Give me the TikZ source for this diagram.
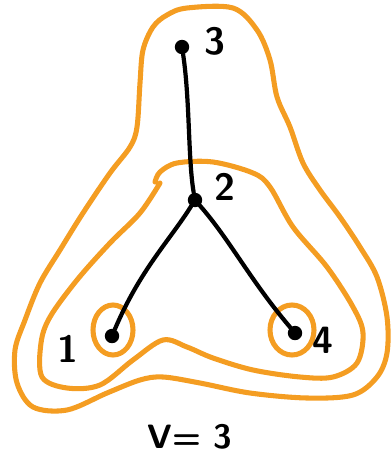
\documentclass[tikz,border=0pt]{standalone}
\usepackage{tikz}
\definecolor{hull}{RGB}{244,157,34}

\begin{document}
\begin{tikzpicture}[x=0.025cm, y=-0.025cm, line cap=round, line join=round,
    vert/.style={circle, fill, inner sep=0pt, minimum size=0.36cm},
    lab/.style={font=\sffamily\bfseries\fontsize{27}{30}\selectfont},
    edge/.style={line width=3pt},
    ring/.style={hull, line width=3.6pt}]
  \useasboundingbox (0,0) rectangle (390,461);

  % outer ring around the whole tree
  \draw[ring] plot[smooth cycle, tension=0.55] coordinates {
    (167,15) (187,8) (233,8) (257,30) (270,60) (277,97) (290,127)
    (303,163) (320,190) (340,217) (360,247) (377,277) (387,317)
    (387,353) (377,377) (353,395) (307,398) (250,393) (200,383)
    (163,377) (140,380) (107,393) (67,410) (33,407) (17,383)
    (15,350) (25,320) (40,283) (60,250) (83,213) (110,173)
    (130,147) (137,127) (140,83) (143,50) (153,27)};

  % middle ring around 1, 2, 4
  \draw[ring] plot[smooth, tension=0.55] coordinates {
    (160,183) (140,213) (110,243) (77,280) (50,317) (41,343)
    (42,377) (67,388) (100,385) (133,360) (163,340) (187,347)
    (213,358) (253,370) (300,377) (333,377) (357,363) (363,333)
    (353,307) (327,267) (293,227) (270,187) (253,173) (213,162)
    (177,163) (160,172) (155,182)};

  % vertices
  \node[vert] (v3) at (182,47) {};
  \node[vert] (v2) at (195,200) {};
  \node[vert] (v1) at (112,336) {};
  \node[vert] (v4) at (295,333) {};

  % inner rings
  \draw[ring] (113,330) ellipse (20 and 25);
  \draw[ring] (292,330) ellipse (22 and 25);

  % edges
  \draw[edge] (v3) .. controls (190,100) and (188,160) .. (v2);
  \draw[edge] (v2) .. controls (170,240) and (140,270) .. (v1);
  \draw[edge] (v2) .. controls (230,240) and (250,280) .. (v4);

  % labels
  \node[lab] (l3) at (215,41) {3};
  \node[lab] (l2) at (225,187) {2};
  \node[lab] (l1) at (68,349) {1};
  \node[lab] (l4) at (323,340) {4};
  \node[font=\sffamily\bfseries\fontsize{24}{28}\selectfont] (val) at (190,437) {V= 3};
\end{tikzpicture}
\end{document}
